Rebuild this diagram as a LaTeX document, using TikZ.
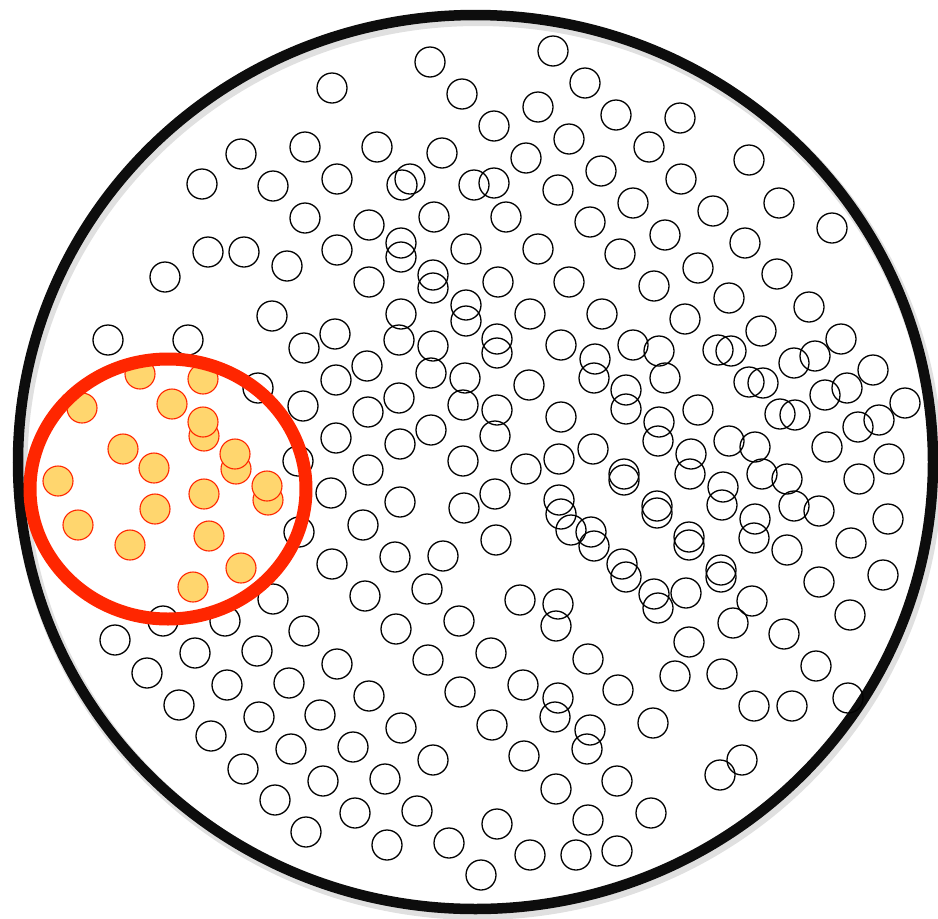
\documentclass[tikz,border=0pt]{standalone}
\definecolor{ringred}{RGB}{255,38,0}
\definecolor{dotfill}{RGB}{255,214,110}
\begin{document}
\begin{tikzpicture}[x=1pt,y=-1pt,
  dot/.style={draw=black,line width=1.3pt},
  hotdot/.style={draw=ringred,fill=dotfill,line width=1.1pt},
  dish/.style={draw=black!95,line width=10.5pt},
  dishshadow/.style={draw=black,opacity=0.12,line width=14pt},
  ring/.style={draw=ringred,line width=13pt}]
\useasboundingbox (0,0) rectangle (938,919);
% dish shadow and rim
\path[dishshadow] (478,466) ellipse [x radius=457.5, y radius=447];
\path[dish] (475.5,462) ellipse [x radius=457.5, y radius=447];
% empty circles
\foreach \px/\py in {553/51, 430/62, 585/83, 332/88, 462/94, 538/107, 616/115, 680/118, 494/126, 569/139, 241/154, 305/147, 377/147, 442/153, 649/147, 749/160, 526/158, 601/171, 202/184, 273/186, 337/179, 402/185, 410/179, 474/185, 494/183, 558/190, 681/179, 633/203, 779/203, 305/218, 434/217, 506/217, 590/222, 713/211, 832/228, 369/225, 665/235, 745/243, 401/243, 401/257, 466/249, 538/249, 208/252, 244/252, 337/250, 620/254, 698/268, 287/266, 165/277, 433/275, 433/288, 369/282, 498/282, 569/282, 654/286, 777/274, 729/298, 466/305, 466/321, 401/314, 530/314, 602/314, 809/307, 685/319, 272/316, 335/334, 761/331, 108/340, 188/340, 497/339, 497/353, 399/340, 433/346, 561/345, 633/345, 304/348, 841/339, 718/350, 731/351, 659/351, 595/359, 594/378, 794/363, 815/356, 873/370, 367/366, 431/373, 529/385, 465/378, 336/380, 258/388, 749/382, 763/383, 626/390, 626/409, 665/378, 847/388, 825/395, 905/403, 399/398, 497/410, 463/405, 303/406, 368/412, 561/417, 698/410, 780/414, 795/415, 858/427, 879/420, 659/422, 658/441, 431/430, 336/438, 729/441, 755/447, 827/447, 593/449, 495/436, 400/444, 691/454, 690/474, 298/461, 368/470, 463/461, 526/469, 559/459, 624/474, 624/480, 762/474, 889/459, 859/479, 787/479, 723/487, 722/505, 331/493, 400/502, 495/494, 559/500, 561/514, 571/530, 657/506, 657/513, 794/506, 819/511, 888/519, 755/519, 754/538, 464/508, 363/525, 299/532, 591/532, 594/546, 689/537, 689/545, 851/543, 496/540, 787/550, 332/564, 395/557, 443/556, 622/564, 626/577, 721/570, 721/577, 883/575, 819/582, 427/589, 365/596, 273/599, 520/600, 558/604, 556/626, 654/594, 658/608, 686/593, 752/601, 850/615, 163/621, 225/621, 459/621, 733/623, 784/634, 396/629, 304/631, 689/642, 115/640, 195/653, 257/651, 491/653, 588/659, 428/660, 337/664, 147/673, 227/685, 289/683, 523/685, 618/690, 675/676, 722/674, 816/666, 369/696, 460/692, 558/698, 555/717, 848/698, 754/706, 792/706, 179/705, 259/717, 320/715, 401/728, 492/725, 653/723, 590/730, 587/749, 211/736, 291/749, 353/747, 433/760, 524/756, 742/760, 720/775, 243/769, 323/781, 385/779, 617/781, 556/789, 275/800, 355/813, 417/811, 651/813, 497/824, 588/820, 306/832, 387/845, 449/843, 530/855, 576/855, 617/851, 481/875}
  \path[dot] (\px,\py) circle [radius=15];
% highlighted circles
\foreach \px/\py in {193/587, 241/568, 130/545, 209/536, 78/525, 155/509, 268/500, 204/494, 267/486, 58/481, 236/469, 154/468, 235/454, 123/449, 204/436, 203/422, 82/408, 172/404, 203/379, 140/374}
  \path[hotdot] (\px,\py) circle [radius=15];
% red ring
\path[ring] (168,489) ellipse [x radius=138, y radius=130];
\end{tikzpicture}
\end{document}
